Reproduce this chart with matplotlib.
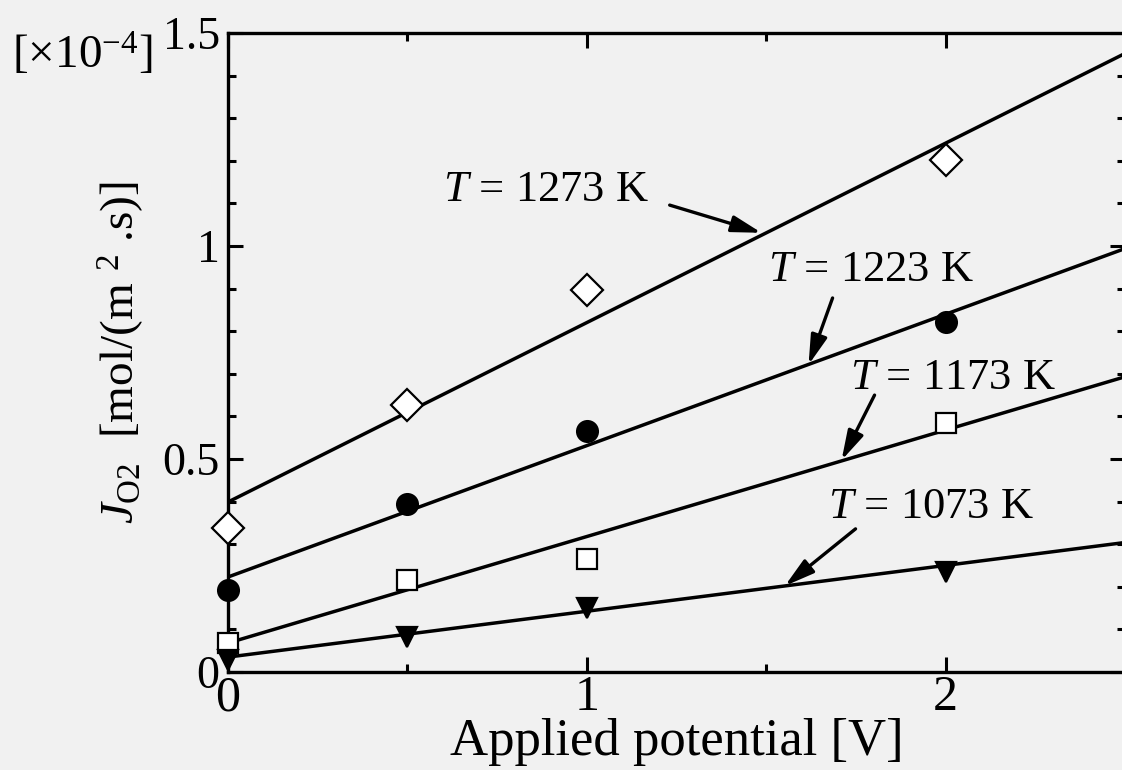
import matplotlib
matplotlib.use("Agg")
import matplotlib.pyplot as plt
import numpy as np
from matplotlib.ticker import MultipleLocator

plt.rcParams['font.family'] = ['Liberation Serif', 'DejaVu Serif']
plt.rcParams['mathtext.fontset'] = 'custom'
plt.rcParams['mathtext.rm'] = 'Liberation Serif'
plt.rcParams['mathtext.it'] = 'Liberation Serif:italic'
plt.rcParams['mathtext.bf'] = 'Liberation Serif:bold'

# ---- data (values in units of 1e-4 mol/(m^2 s)) ----
potential = [0.0, 0.5, 1.0, 2.0]
j_1273 = [0.338, 0.627, 0.897, 1.202]
j_1223 = [0.192, 0.394, 0.566, 0.822]
j_1173 = [0.068, 0.216, 0.265, 0.585]
j_1073 = [0.028, 0.082, 0.150, 0.235]

fit_x = [0.0, 2.5]
fit_1273 = [0.399, 1.452]
fit_1223 = [0.223, 0.994]
fit_1173 = [0.068, 0.693]
fit_1073 = [0.035, 0.304]

labels = ["1273", "1223", "1173", "1073"]
# annotation text position (x, y), arrow tail, arrow head (data coords)
label_pos = [(0.599, 1.131), (1.506, 0.944), (1.733, 0.690), (1.671, 0.387)]
arrow_tail = [(1.231, 1.096), (1.685, 0.878), (1.802, 0.650), (1.749, 0.336)]
arrow_head = [(1.487, 1.031), (1.618, 0.721), (1.710, 0.497), (1.552, 0.202)]

bg = '#f1f1f1'
fig = plt.figure(figsize=(11.22, 7.70), dpi=100, facecolor=bg)
ax = fig.add_axes([228/1122, (770-672)/770, (1125-228)/1122, (672-33)/770])
ax.set_facecolor(bg)

lw = 2.5
for fy in [fit_1273, fit_1223, fit_1173, fit_1073]:
    ax.plot(fit_x, fy, color='black', lw=lw, solid_capstyle='butt', zorder=2)

mew = 1.6
ax.plot(potential, j_1273, ls='none', marker='D', ms=16, mfc='white', mec='black', mew=mew, clip_on=False, zorder=3)
ax.plot(potential, j_1223, ls='none', marker='o', ms=15, mfc='black', mec='black', mew=mew, clip_on=False, zorder=3)
ax.plot(potential, j_1173, ls='none', marker='s', ms=14, mfc='white', mec='black', mew=mew, clip_on=False, zorder=3)
ax.plot(potential, j_1073, ls='none', marker='v', ms=15, mfc='black', mec='black', mew=mew, clip_on=False, zorder=3)

for lab, (tx, ty), tail, head in zip(labels, label_pos, arrow_tail, arrow_head):
    ax.text(tx, ty, r"$T$ = " + lab + " K", fontsize=32, ha='left', va='center')
    ax.annotate("", xy=head, xytext=tail,
                arrowprops=dict(arrowstyle='-|>,head_length=1.8,head_width=0.5',
                                color='black', lw=2.4, shrinkA=0, shrinkB=0))

ax.set_xlim(0, 2.5)
ax.set_ylim(0, 1.5)
ax.xaxis.set_major_locator(MultipleLocator(1))
ax.xaxis.set_minor_locator(MultipleLocator(0.5))
ax.yaxis.set_major_locator(MultipleLocator(0.5))
ax.yaxis.set_minor_locator(MultipleLocator(0.1))
ax.set_xticks([0, 1, 2])
ax.set_xticklabels(["0", "1", "2"])
ax.set_yticks([0, 0.5, 1, 1.5])
ax.set_yticklabels(["0", "0.5", "1", "1.5"])

ax.tick_params(which='both', direction='in', top=True, right=True, width=2.2, color='black')
ax.tick_params(which='major', length=11)
ax.tick_params(which='minor', length=6)
ax.tick_params(axis='x', which='major', labelsize=36, pad=2)
ax.tick_params(axis='y', which='major', labelsize=33, pad=6)
for sp in ax.spines.values():
    sp.set_linewidth(2.4)

ax.set_xlabel("Applied potential [V]", fontsize=38, labelpad=-2)
ax.set_ylabel(r"$J_{\mathrm{O2}}$  [mol/(m $^{2}$ .s)]", fontsize=34, labelpad=12)

fig.text(12/1122, 1 - 55/770, r"[$\times$10$^{-4}$]", fontsize=34, ha='left', va='center')

fig.savefig("out.png", dpi=100, facecolor=bg)
